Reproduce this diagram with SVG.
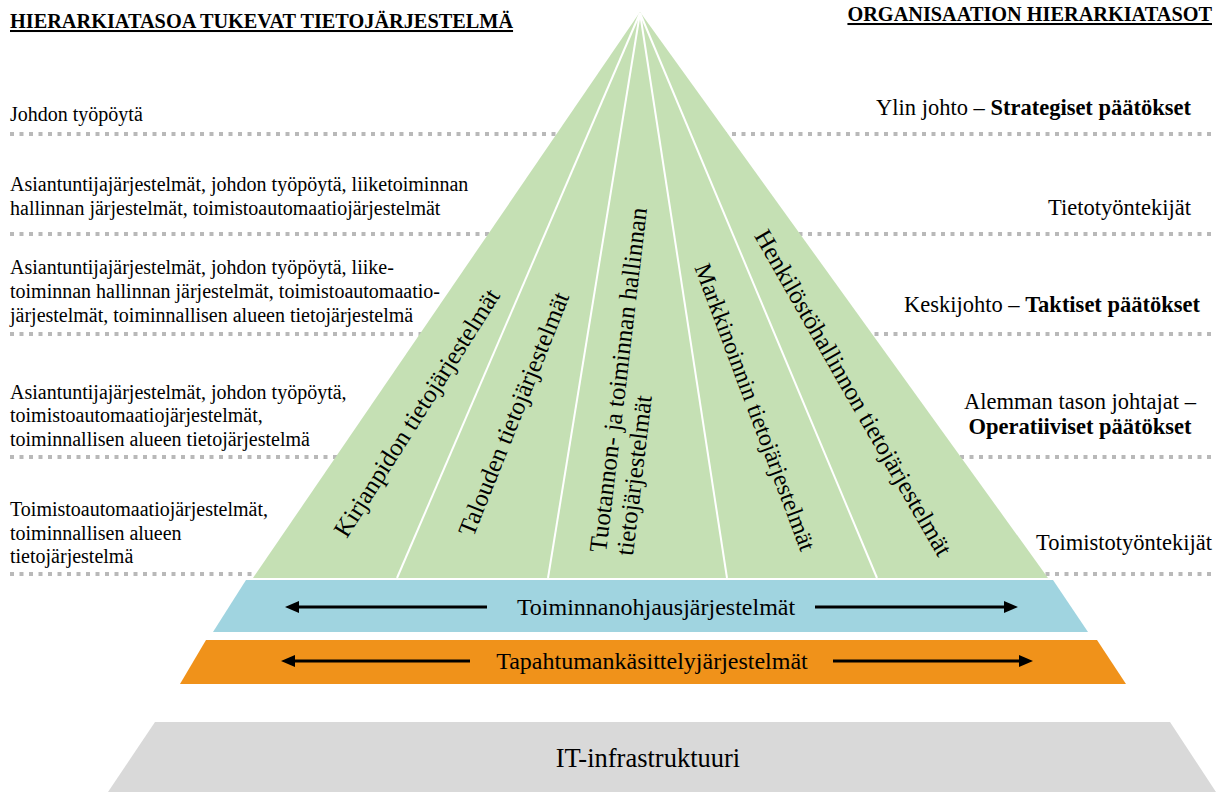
<svg xmlns="http://www.w3.org/2000/svg" width="1224" height="792" viewBox="0 0 1224 792">
  <style>
    text { font-family: "Liberation Serif", "Times New Roman", serif; fill: #000; }
    .title { font-size: 20.3px; font-weight: bold; text-decoration: underline; }
    .left { font-size: 20px; }
    .right { font-size: 22.5px; }
    .b { font-weight: bold; }
    .seg { font-size: 25px; }
    .band { font-size: 24px; text-anchor: middle; }
    .infra { font-size: 26.5px; text-anchor: middle; }
    .dots { stroke: #b9b9b9; stroke-width: 4; stroke-dasharray: 4 5.5; fill: none; }
    .divider { stroke: #ffffff; stroke-width: 2; fill: none; }
    .arrow { stroke: #000; stroke-width: 3; fill: none; marker-end: url(#head); }
  </style>
  <defs>
    <marker id="head" markerUnits="userSpaceOnUse" markerWidth="14" markerHeight="12" viewBox="0 0 14 12" refX="2" refY="6" orient="auto">
      <path d="M0,0 L14,6 L0,12 z" fill="#000"/>
    </marker>
  </defs>

  <rect width="1224" height="792" fill="#ffffff"/>

  <!-- level separators -->
  <g id="separators">
    <line class="dots" x1="10" y1="134" x2="1212" y2="134"/>
    <line class="dots" x1="10" y1="234" x2="1212" y2="234"/>
    <line class="dots" x1="10" y1="334" x2="1212" y2="334"/>
    <line class="dots" x1="10" y1="457" x2="1212" y2="457"/>
    <line class="dots" x1="10" y1="574" x2="1212" y2="574"/>
  </g>

  <!-- headings -->
  <g id="headings">
    <text class="title" x="10" y="28">HIERARKIATASOA TUKEVAT TIETOJÄRJESTELMÄ</text>
    <text class="title" x="1212" y="21" text-anchor="end">ORGANISAATION HIERARKIATASOT</text>
  </g>

  <!-- systems per level -->
  <g id="systems-left" class="left">
    <text x="10" y="121">Johdon työpöytä</text>
    <text x="10" y="191">Asiantuntijajärjestelmät, johdon työpöytä, liiketoiminnan</text>
    <text x="10" y="215">hallinnan järjestelmät, toimistoautomaatiojärjestelmät</text>
    <text x="10" y="274">Asiantuntijajärjestelmät, johdon työpöytä, liike-</text>
    <text x="10" y="298">toiminnan hallinnan järjestelmät, toimistoautomaatio-</text>
    <text x="10" y="322">järjestelmät, toiminnallisen alueen tietojärjestelmä</text>
    <text x="10" y="399">Asiantuntijajärjestelmät, johdon työpöytä,</text>
    <text x="10" y="422">toimistoautomaatiojärjestelmät,</text>
    <text x="10" y="446">toiminnallisen alueen tietojärjestelmä</text>
    <text x="10" y="516">Toimistoautomaatiojärjestelmät,</text>
    <text x="10" y="540">toiminnallisen alueen</text>
    <text x="10" y="563">tietojärjestelmä</text>
  </g>

  <!-- organisation levels -->
  <g id="levels-right" class="right">
    <text x="1191" y="115" text-anchor="end">Ylin johto – <tspan class="b">Strategiset päätökset</tspan></text>
    <text x="1191" y="215" text-anchor="end">Tietotyöntekijät</text>
    <text x="1200" y="312" text-anchor="end">Keskijohto – <tspan class="b">Taktiset päätökset</tspan></text>
    <text x="1080" y="409" text-anchor="middle">Alemman tason johtajat –</text>
    <text x="1080" y="434" text-anchor="middle" class="b">Operatiiviset päätökset</text>
    <text x="1212" y="550" text-anchor="end">Toimistotyöntekijät</text>
  </g>

  <!-- functional pyramid -->
  <g id="pyramid">
    <polygon points="640,12 1048,578 253,578" fill="#c5e0b4"/>
    <line class="divider" x1="640" y1="13" x2="397" y2="578"/>
    <line class="divider" x1="640" y1="13" x2="548" y2="578"/>
    <line class="divider" x1="640" y1="13" x2="727" y2="578"/>
    <line class="divider" x1="640" y1="13" x2="877" y2="578"/>
  </g>

  <g id="seg-kirjanpito">
    <text class="seg" text-anchor="middle" transform="translate(417,413) rotate(-57.7)" y="8">Kirjanpidon tietojärjestelmät</text>
  </g>
  <g id="seg-talous">
    <text class="seg" text-anchor="middle" transform="translate(514,414) rotate(-68.2)" y="8">Talouden tietojärjestelmät</text>
  </g>
  <g id="seg-tuotanto">
    <text class="seg" transform="translate(606,553) rotate(-83.2)">
      <tspan x="0" y="0">Tuotannon- ja toiminnan hallinnan</tspan>
      <tspan x="0" y="27">tietojärjestelmät</tspan>
    </text>
  </g>
  <g id="seg-markkinointi">
    <text class="seg" style="font-size:24px" text-anchor="middle" transform="translate(755,407) rotate(69.5)" y="8">Markkinoinnin tietojärjestelmät</text>
  </g>
  <g id="seg-henkilosto">
    <text class="seg" text-anchor="middle" transform="translate(853,393) rotate(60.2)" y="8">Henkilöstöhallinnon tietojärjestelmät</text>
  </g>

  <!-- cross-functional layers -->
  <g id="layer-erp">
    <polygon points="246,580 1053,580 1088,632 213,632" fill="#a0d4e0"/>
    <text class="band" x="656" y="615">Toiminnanohjausjärjestelmät</text>
  </g>
  <g id="layer-tps">
    <polygon points="206,640 1097,640 1126,684 180,684" fill="#f0921a"/>
    <text class="band" x="652" y="669">Tapahtumankäsittelyjärjestelmät</text>
  </g>
  <g id="layer-infra">
    <polygon points="155,722 1170,722 1216,792 108,792" fill="#d9d9d9"/>
    <text class="infra" x="648" y="767">IT-infrastruktuuri</text>
  </g>

  <!-- span arrows -->
  <g id="connectors">
    <line class="arrow" x1="487" y1="607" x2="297" y2="607"/>
    <line class="arrow" x1="815" y1="607" x2="1006" y2="607"/>
    <line class="arrow" x1="470" y1="661" x2="293" y2="661"/>
    <line class="arrow" x1="833" y1="661" x2="1021" y2="661"/>
  </g>
</svg>
